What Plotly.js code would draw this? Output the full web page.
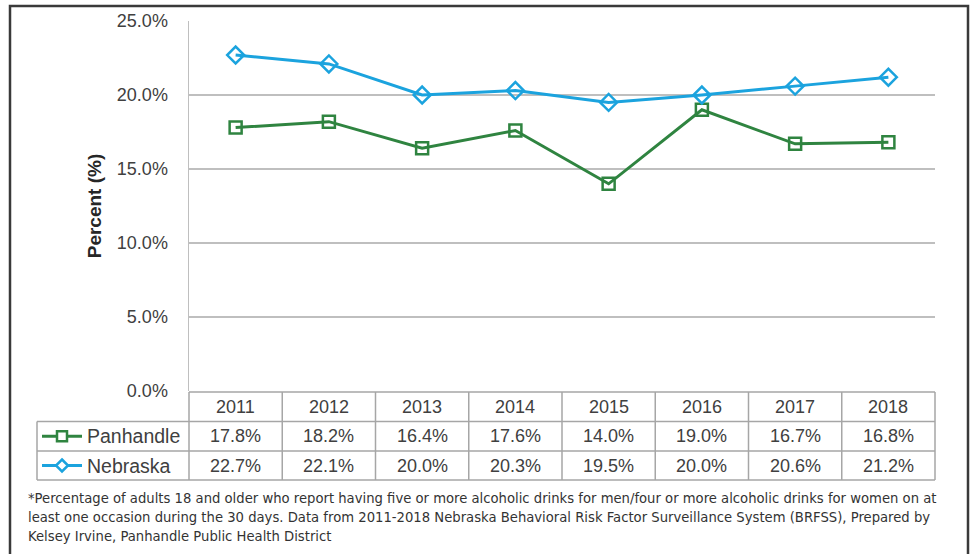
<!DOCTYPE html>
<html>
<head>
<meta charset="utf-8">
<script src="https://cdn.plot.ly/plotly-3.0.1.min.js"></script>
<style>html,body{margin:0;padding:0;background:#fff;}#chart{width:974px;height:554px;}</style>
</head>
<body>
<div id="chart"></div>
<script>
// ---- data ----
const years = ['2011','2012','2013','2014','2015','2016','2017','2018'];
const panhandle = [17.8, 18.2, 16.4, 17.6, 14.0, 19.0, 16.7, 16.8];
const nebraska = [22.7, 22.1, 20.0, 20.3, 19.5, 20.0, 20.6, 21.2];
const seriesNames = ['Panhandle', 'Nebraska'];
const footnoteLines = [
  '*Percentage of adults 18 and older who report having five or more alcoholic drinks for men/four or more alcoholic drinks for women on at',
  'least one occasion during the 30 days. Data from 2011-2018 Nebraska Behavioral Risk Factor Surveillance System (BRFSS), Prepared by',
  'Kelsey Irvine, Panhandle Public Health District'
];

// ---- layout helpers (pixel -> paper) ----
const L = 189, R = 935, T = 21, B = 391;
const W = 974, H = 554;
const px = X => (X - L) / (R - L);
const py = Y => (B - Y) / (B - T);

const green = '#2f8440';
const blue = '#1ba3de';
const txt = '#404040';
const gridc = '#bfbfbf';
const tablec = '#a6a6a6';
const font = 'Liberation Sans, Arial, sans-serif';

const traces = [
  {x: years, y: panhandle, name: seriesNames[0], mode: 'lines+markers', type: 'scatter',
   line: {color: green, width: 3},
   marker: {symbol: 'square-open', size: 12, color: green, line: {width: 2.5, color: green}}},
  {x: years, y: nebraska, name: seriesNames[1], mode: 'lines+markers', type: 'scatter',
   line: {color: blue, width: 3},
   marker: {symbol: 'diamond-open', size: 13, color: blue, line: {width: 2.5, color: blue}}}
];

const n = years.length;
const shapes = [];
const annotations = [];
const line = (x0, y0, x1, y1, c, w) => shapes.push({type: 'line', xref: 'paper', yref: 'paper',
  x0: x0, y0: y0, x1: x1, y1: y1, line: {color: c, width: w}});

// outer frame
shapes.push({type: 'rect', xref: 'paper', yref: 'paper', x0: px(10), x1: px(968), y0: py(570), y1: py(6),
  line: {color: '#3a3a3a', width: 2.5}});

// table rows
const rowY = [392, 421.5, 451, 480];
line(0, py(rowY[0]), 1, py(rowY[0]), tablec, 1.5);
for (let r = 1; r < rowY.length; r++) line(px(37), py(rowY[r]), 1, py(rowY[r]), tablec, 1.5);
for (let k = 0; k <= n; k++) line(k / n, py(rowY[0]), k / n, py(rowY[3]), tablec, 1.5);
line(px(37), py(rowY[1]), px(37), py(rowY[3]), tablec, 1.5);

// table text (x in category index on the x axis)
const rowMid = r => py((rowY[r] + rowY[r + 1]) / 2);
const cellFont = {family: font, size: 18, color: txt};
years.forEach((yr, i) => {
  annotations.push({xref: 'x', yref: 'paper', x: i, y: rowMid(0), text: yr, showarrow: false,
    font: cellFont, xanchor: 'center', yanchor: 'middle'});
  annotations.push({xref: 'x', yref: 'paper', x: i, y: rowMid(1), text: panhandle[i].toFixed(1) + '%', showarrow: false,
    font: cellFont, xanchor: 'center', yanchor: 'middle'});
  annotations.push({xref: 'x', yref: 'paper', x: i, y: rowMid(2), text: nebraska[i].toFixed(1) + '%', showarrow: false,
    font: cellFont, xanchor: 'center', yanchor: 'middle'});
});

// legend keys in table
[[green, 'square'], [blue, 'diamond']].forEach((s, j) => {
  const yc = (rowY[j + 1] + rowY[j + 2]) / 2;
  line(px(42), py(yc), px(82), py(yc), s[0], 3);
  if (s[1] === 'square') {
    shapes.push({type: 'rect', xref: 'paper', yref: 'paper', x0: px(57), x1: px(67), y0: py(yc + 5), y1: py(yc - 5),
      fillcolor: '#fff', line: {color: s[0], width: 2.5}});
  } else {
    const cx = 62, cy = yc, d = 6;
    shapes.push({type: 'path', xref: 'paper', yref: 'paper',
      path: 'M' + px(cx) + ',' + py(cy - d) + ' L' + px(cx + d) + ',' + py(cy) + ' L' + px(cx) + ',' + py(cy + d) + ' L' + px(cx - d) + ',' + py(cy) + ' Z',
      fillcolor: '#fff', line: {color: s[0], width: 2.5}});
  }
  annotations.push({xref: 'paper', yref: 'paper', x: px(85), y: py(yc), text: seriesNames[j], showarrow: false,
    font: {family: font, size: 19.5, color: txt}, xanchor: 'left', yanchor: 'middle'});
});

// footnote
const fy = [498, 517, 536];
footnoteLines.forEach((t, i) => {
  annotations.push({xref: 'paper', yref: 'paper', x: px(26), y: py(fy[i]), text: t, showarrow: false,
    font: {family: 'DejaVu Sans, sans-serif', size: 13.2, color: '#333333'}, xanchor: 'left', yanchor: 'middle', align: 'left'});
});

const layout = {
  width: W, height: H,
  margin: {l: L, r: W - R, t: T, b: H - B, pad: 0},
  paper_bgcolor: '#fff', plot_bgcolor: '#fff',
  showlegend: false,
  xaxis: {type: 'category', range: [-0.5, n - 0.5], showticklabels: false, showgrid: false, zeroline: false,
    showline: false, ticks: ''},
  yaxis: {range: [0, 25], dtick: 5, tick0: 0, tickformat: '.1f', ticksuffix: '%',
    showgrid: true, gridcolor: gridc, gridwidth: 1.5, zeroline: false,
    showline: true, linecolor: gridc, linewidth: 1.5,
    ticks: 'outside', ticklen: 16, tickcolor: 'rgba(0,0,0,0)',
    tickfont: {family: font, size: 18, color: txt},
    title: {text: '<b>Percent (%)</b>', font: {family: font, size: 19, color: '#262626'}, standoff: 10}},
  shapes: shapes,
  annotations: annotations
};

Plotly.newPlot('chart', traces, layout, {displayModeBar: false, staticPlot: true});
</script>
</body>
</html>
